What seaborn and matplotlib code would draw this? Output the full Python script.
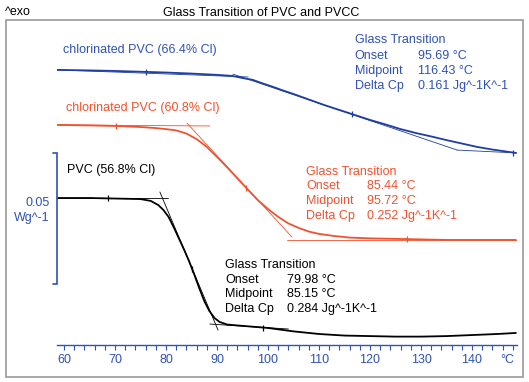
import numpy as np
import matplotlib
matplotlib.use("Agg")
import matplotlib.pyplot as plt
from matplotlib.patches import Rectangle
import seaborn as sns

# heat flow (W/g, exo up, curves offset) vs temperature (°C)
temp_pvc = [58.6, 65, 70, 75, 77, 78.5, 79.5, 80.5, 81.5, 82.5, 83.5, 84.5, 85.5, 86.5, 87.5,
            88.5, 89.5, 90.5, 92, 95, 100, 105, 110, 115, 120, 125, 130, 135, 140, 145, 148.6]
hf_pvc = [0.0561, 0.0561, 0.0559, 0.0557, 0.0550, 0.0534, 0.0515, 0.0489, 0.0450, 0.0408, 0.0366,
          0.0321, 0.0271, 0.0218, 0.0168, 0.0130, 0.0103, 0.0088, 0.0078, 0.0073, 0.0065, 0.0052,
          0.0042, 0.0036, 0.0034, 0.0032, 0.0032, 0.0034, 0.0038, 0.0042, 0.0046]

temp_pvcc61 = [58.6, 65, 70, 75, 78, 80, 82, 84, 86, 88, 90, 92, 94, 96, 98, 100, 102, 104, 106,
               108, 110, 113, 116, 120, 125, 130, 135, 140, 145, 148.6]
hf_pvcc61 = [0.0840, 0.0838, 0.0836, 0.0832, 0.0828, 0.0824, 0.0819, 0.0807, 0.0786, 0.0756,
             0.0718, 0.0678, 0.0636, 0.0594, 0.0553, 0.0519, 0.0489, 0.0464, 0.0447, 0.0433,
             0.0424, 0.0416, 0.0410, 0.0407, 0.0405, 0.0403, 0.0401, 0.0401, 0.0401, 0.0401]

temp_pvcc66 = [58.6, 65, 70, 75, 80, 85, 90, 93, 95, 97, 99, 101, 103, 105, 108, 111, 114, 117,
               120, 123, 126, 129, 132, 135, 138, 141, 144, 146.5, 148.6]
hf_pvcc66 = [0.1050, 0.1048, 0.1046, 0.1043, 0.1040, 0.1036, 0.1031, 0.1027, 0.1019, 0.1012,
             0.0998, 0.0985, 0.0971, 0.0958, 0.0937, 0.0916, 0.0897, 0.0878, 0.0859, 0.0842,
             0.0824, 0.0809, 0.0796, 0.0782, 0.0769, 0.0756, 0.0746, 0.0739, 0.0733]

# evaluation tangents: (T1, T2), (y1, y2)
tangents_pvc = [([58.6, 80.4], [0.0561, 0.0561]), ([78.8, 90.2], [0.0584, 0.0057]),
                ([88.6, 104.0], [0.0080, 0.0061])]
tangents_pvcc61 = [([58.6, 88.6], [0.0840, 0.0836]), ([84.1, 104.7], [0.0847, 0.0412]),
                   ([103.7, 148.8], [0.0401, 0.0401])]
tangents_pvcc66 = [([58.6, 96.1], [0.1050, 0.1023]), ([93.1, 137.1], [0.1034, 0.0744]),
                   ([137.1, 148.8], [0.0744, 0.0733])]

# limit marks (left, midpoint, right)
marks_pvc = [68.6, 85.15, 99.0]
marks_pvcc61 = [70.2, 95.72, 127.3]
marks_pvcc66 = [76.1, 116.43, 148.0]

results_pvc = ["79.98 °C", "85.15 °C", "0.284 Jg^-1K^-1"]
results_pvcc61 = ["85.44 °C", "95.72 °C", "0.252 Jg^-1K^-1"]
results_pvcc66 = ["95.69 °C", "116.43 °C", "0.161 Jg^-1K^-1"]

BLUE = "#1f3e9e"
BLUE_TXT = "#2f52b4"
RED = "#f0522f"
BLACK = "#000000"

sns.set_theme(style="white")
plt.rcParams["font.family"] = ["Liberation Sans", "DejaVu Sans"]

fig = plt.figure(figsize=(5.29, 3.82), dpi=100)
ax = fig.add_axes([57 / 529, 37 / 382, 460 / 529, 323 / 382])
ax.set_xlim(58.627, 148.82)
ax.set_ylim(0, 0.12328)

curves = [
    (temp_pvcc66, hf_pvcc66, tangents_pvcc66, marks_pvcc66, BLUE),
    (temp_pvcc61, hf_pvcc61, tangents_pvcc61, marks_pvcc61, RED),
    (temp_pvc, hf_pvc, tangents_pvc, marks_pvc, BLACK),
]
for t, h, tans, marks, col in curves:
    for tx, ty in tans:
        ax.plot(tx, ty, color=col, lw=0.6)
    sns.lineplot(x=t, y=h, ax=ax, color=col, lw=1.3, sort=False)
    ax.plot(marks, np.interp(marks, t, h), ls="none", marker="|", ms=4, mew=0.9, color=col)

fs = 9
ax.text(59.8, 0.1126, "chlorinated PVC (66.4% Cl)", color=BLUE_TXT, fontsize=fs, va="center")
ax.text(60.4, 0.0905, "chlorinated PVC (60.8% Cl)", color=RED, fontsize=fs, va="center")
ax.text(60.6, 0.0668, "PVC (56.8% Cl)", color=BLACK, fontsize=fs, va="center")

blocks = [
    (117.0, 129.4, [0.1164, 0.1103, 0.1046, 0.0989], results_pvcc66, BLUE_TXT),
    (107.45, 119.4, [0.0660, 0.0607, 0.0550, 0.0492], results_pvcc61, RED),
    (91.57, 103.7, [0.0305, 0.0248, 0.0195, 0.0137], results_pvc, BLACK),
]
for x0, x1, ys, vals, col in blocks:
    ax.text(x0, ys[0], "Glass Transition", color=col, fontsize=fs, va="center")
    for lab, val, y in zip(["Onset", "Midpoint", "Delta Cp"], vals, ys[1:]):
        ax.text(x0, y, lab, color=col, fontsize=fs, va="center")
        ax.text(x1, y, val, color=col, fontsize=fs, va="center")

# 0.05 W/g scale bar
ax.plot([57.9, 58.63, 58.63, 57.9], [0.0733, 0.0733, 0.0233, 0.0233], color=BLUE_TXT,
        lw=1.2, clip_on=False, solid_joinstyle="miter")
fig.text(50 / 529, 1 - 203 / 382, "0.05", color=BLUE_TXT, fontsize=fs, ha="right", va="center")
fig.text(50 / 529, 1 - 218 / 382, "Wg^-1", color=BLUE_TXT, fontsize=fs, ha="right", va="center")

for s in ["left", "right", "top"]:
    ax.spines[s].set_visible(False)
ax.spines["bottom"].set_color(BLUE_TXT)
ax.spines["bottom"].set_linewidth(1.0)
ax.set_yticks([])
ax.set_xticks(range(60, 150, 10))
ax.set_xticks(range(60, 150, 2), minor=True)
ax.tick_params(axis="x", which="both", direction="out", length=3.5, width=0.8,
               color=BLUE_TXT, labelcolor=BLUE_TXT, labelsize=fs, pad=3, bottom=True)
ax.text(147.0, -0.046, "°C", transform=ax.get_xaxis_transform(), color=BLUE_TXT,
        fontsize=fs, ha="center", va="center")
ax.set_xlabel("")
ax.set_ylabel("")
ax.patch.set_alpha(0)

fig.patches.append(Rectangle((6 / 529, 5 / 382), 517 / 529, 357 / 382, transform=fig.transFigure,
                             fill=False, ec="#9a9a9a", lw=1.2))
fig.text(261 / 529, 1 - 13 / 382, "Glass Transition of PVC and PVCC", fontsize=fs,
         ha="center", va="center", color=BLACK)
fig.text(5 / 529, 1 - 12 / 382, "^exo", fontsize=fs, ha="left", va="center", color=BLACK)

fig.savefig("out.png", dpi=100)
